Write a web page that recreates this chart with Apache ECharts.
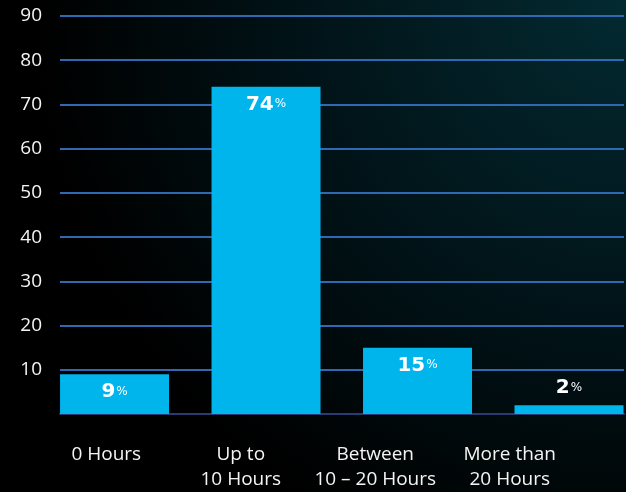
<!DOCTYPE html>
<html>
<head>
<meta charset="utf-8">
<script src="https://cdn.jsdelivr.net/npm/echarts@6/dist/echarts.min.js"></script>
<style>
  html, body { margin: 0; padding: 0; background: #000; }
  #chart { width: 626px; height: 492px; }
</style>
</head>
<body>
<div id="chart"></div>
<script>
// categories and values
var categories = ['0 Hours', 'Up to\n10 Hours', 'Between\n10 \u2013 20 Hours', 'More than\n20 Hours'];
var values = [9, 74, 15, 2];
var yMin = 0, yMax = 90, yStep = 10;

var chart = echarts.init(document.getElementById('chart'));

// bars sit on a numeric x axis (category index) so they can be spaced wider than the labels
var barData = values.map(function (v, i) {
  if (v < 5) {
    // small bars get their label above the bar
    return { value: [i, v], label: { position: 'top', distance: 7 } };
  }
  return [i, v];
});

var option = {
  backgroundColor: {
    type: 'radial', x: 1, y: 0, r: 1.2,
    colorStops: [
      { offset: 0, color: '#032a31' },
      { offset: 0.5, color: '#01151a' },
      { offset: 1, color: '#000000' }
    ]
  },
  grid: [
    { left: 60, right: 2, top: 16, bottom: 78 },   // gridlines, bars, y labels
    { left: 39, width: 538, top: 16, bottom: 78 }  // category labels
  ],
  xAxis: [
    {
      gridIndex: 0, type: 'value', min: -0.36, max: 3.363,
      axisLine: { show: true, onZero: false, lineStyle: { color: '#2b3a72', width: 2 } },
      axisTick: { show: false }, axisLabel: { show: false }, splitLine: { show: false }
    },
    {
      gridIndex: 1, type: 'category', data: categories,
      axisLine: { show: false }, axisTick: { show: false },
      axisLabel: {
        margin: 29, color: '#f4f4f4', fontFamily: 'Open Sans',
        fontSize: 19, lineHeight: 25, interval: 0
      }
    }
  ],
  yAxis: [
    {
      gridIndex: 0, type: 'value', min: yMin, max: yMax, interval: yStep,
      axisLine: { show: false }, axisTick: { show: false },
      axisLabel: {
        margin: 18, color: '#f4f4f4', fontFamily: 'Open Sans', fontSize: 19,
        padding: [6, 0, 0, 0],
        formatter: function (v) { return v === 0 ? '' : v; }
      },
      splitLine: {
        lineStyle: { color: '#2f69b3', width: 2 },
        showMinLine: false
      }
    },
    { gridIndex: 1, type: 'value', min: yMin, max: yMax, show: false }
  ],
  series: [{
    type: 'bar',
    xAxisIndex: 0,
    yAxisIndex: 0,
    data: barData,
    barWidth: 109,
    z: 5,
    itemStyle: { color: '#00b4ec' },
    label: {
      show: true,
      position: 'insideTop',
      distance: 8,
      formatter: function (p) { return '{v|' + p.value[1] + '}{p|%}'; },
      rich: {
        v: { color: '#ffffff', fontFamily: 'DejaVu Sans', fontWeight: 'bold', fontSize: 20, lineHeight: 20 },
        p: { color: '#ffffff', fontFamily: 'DejaVu Sans', fontSize: 12, lineHeight: 12, padding: [0, 0, 1, 1] }
      }
    }
  }]
};

chart.setOption(option);
</script>
</body>
</html>
